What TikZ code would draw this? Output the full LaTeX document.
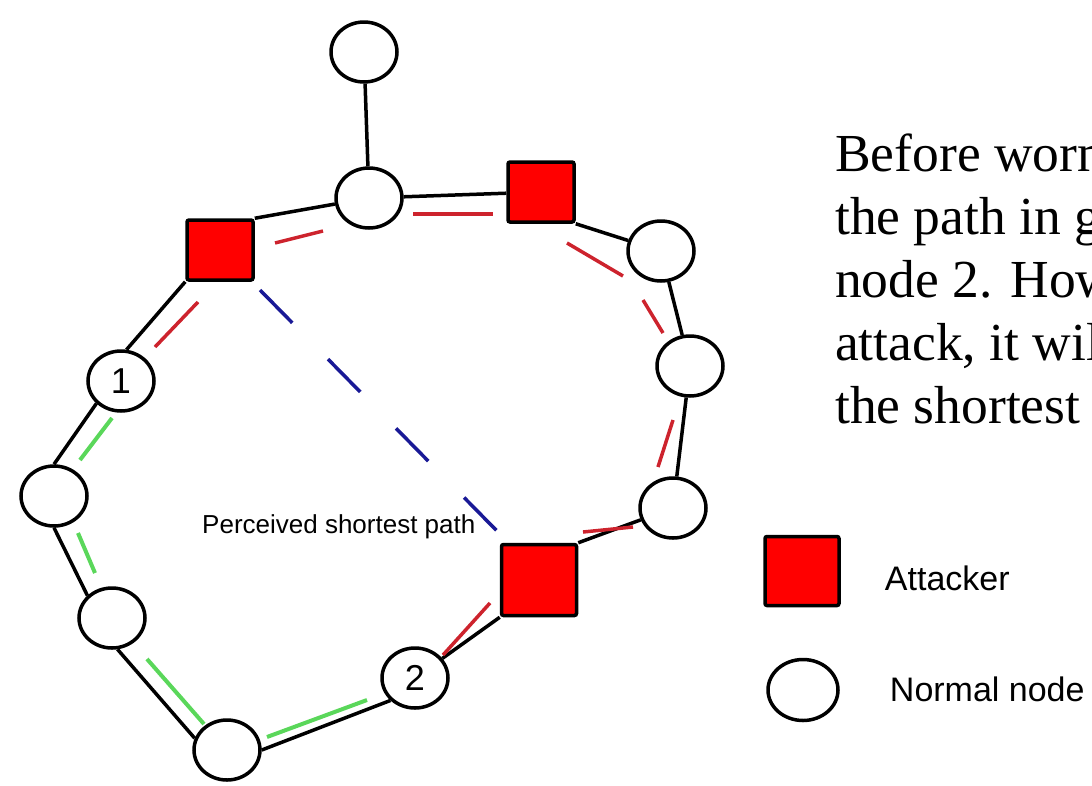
\documentclass[tikz,border=0pt]{standalone}
\usepackage{fontspec}
\setmainfont{Liberation Serif}
\setsansfont{Liberation Sans}
\usetikzlibrary{positioning,shapes.geometric,calc}
\definecolor{wormred}{RGB}{205,35,45}
\definecolor{wormgreen}{RGB}{90,215,90}
\definecolor{wormblue}{RGB}{25,25,150}
\tikzset{
  normal/.style     = {ellipse, draw, line width=3.5pt, fill=white, inner sep=0pt, minimum width=66pt, minimum height=60pt, font=\sffamily\fontsize{36}{36}\selectfont},
  attacker/.style   = {rectangle, draw, line width=3.5pt, fill=red, rounded corners=2pt, inner sep=0pt, minimum width=66pt, minimum height=60pt},
  link/.style       = {line width=3.5pt},
  oldpath/.style    = {wormgreen, line width=4pt},
  newpath/.style    = {wormred, line width=3.5pt},
  fakepath/.style   = {wormblue, line width=3.5pt, dash pattern=on 46pt off 51pt},
  labelstyle/.style = {font=\sffamily\fontsize{26}{26}\selectfont, inner sep=0pt},
  legendstyle/.style = {font=\sffamily\fontsize{34}{34}\selectfont, inner sep=0pt},
  notestyle/.style  = {font=\fontsize{53.5}{63}\selectfont, align=left, inner sep=0pt}
}

\begin{document}
\begin{tikzpicture}[x=1pt, y=-1pt]
    \useasboundingbox (0,0) rectangle (1092,785);
    \clip (0,0) rectangle (1092,785);
    % Nodes of the ring
    \node[normal] (top) at (364,52) {};
    \node[normal] (hub) at (369,198) {};
    \node[attacker] (atkA) at (220,250) {};
    \node[attacker] (atkB) at (541,192) {};
    \node[normal] (r1) at (661,251) {};
    \node[normal] (r2) at (690,366) {};
    \node[normal] (r3) at (673,508) {};
    \node[attacker, minimum width=75pt, minimum height=71pt] (atkC) at (539,580) {};
    \node[normal] (n2) at (415,678) {2};
    \node[normal] (bot) at (227,750) {};
    \node[normal] (l2) at (112,618) {};
    \node[normal] (l1) at (54,496) {};
    \node[normal] (n1) at (121,381) {1};
    % Links
    \draw[link] (top) -- (hub);
    \draw[link] (atkA.north east) -- (hub);
    \draw[link] (hub) -- (atkB);
    \draw[link] (atkB.south east) -- (r1);
    \draw[link] (r1) -- (r2);
    \draw[link] (r2) -- (r3);
    \draw[link] (r3) -- (atkC.north east);
    \draw[link] (atkC.south west) -- (n2);
    \draw[link] (n2.south west) -- (bot.east);
    \draw[link] (bot.160) -- (l2.-80);
    \draw[link] (l2.north west) -- (l1.south);
    \draw[link] (l1.north) -- (n1.south west);
    \draw[link] (n1.80) -- (atkA.south west);
    % Shortest path before the attack
    \draw[oldpath] ($(n1)+(-9,37)$) -- ($(l1)+(26,-36)$);
    \draw[oldpath] ($(l1)+(24,37)$) -- ($(l2)+(-17,-45)$);
    \draw[oldpath] ($(l2)+(35,41)$) -- ($(bot)+(-23,-26)$);
    \draw[oldpath] ($(bot)+(40,-13)$) -- ($(n2)+(-48,22)$);
    % Path taken after the attack
    \draw[newpath] ($(n1)+(34,-34)$) -- ($(atkA)+(-22,52)$);
    \draw[newpath] ($(atkA)+(55,-7)$) -- ($(hub)+(-46,33)$);
    \draw[newpath] ($(hub)+(44,16)$) -- ($(atkB)+(-48,22)$);
    \draw[newpath] ($(atkB)+(26,51)$) -- ($(r1)+(-38,25)$);
    \draw[newpath] ($(r1)+(-18,49)$) -- ($(r2)+(-27,-33)$);
    \draw[newpath] ($(r2)+(-17,54)$) -- ($(r3)+(-15,-41)$);
    \draw[newpath] ($(r3)+(-40,19)$) -- ($(atkC)+(44,-48)$);
    \draw[newpath] ($(atkC)+(-49,23)$) -- ($(n2)+(28,-23)$);
    % Wormhole tunnel
    \draw[fakepath] ($(atkA)+(40,40)$) -- ($(atkC)+(-41,-48)$);
    \node[labelstyle, anchor=base west] (tunnel) at (202,533) {Perceived shortest path};
    % Legend
    \node[attacker, minimum width=74pt, minimum height=69pt] (legA) at (802,571) {};
    \node[normal, minimum width=70pt, minimum height=61pt] (legN) at (803,690) {};
    \node[legendstyle, right=44pt of legA, yshift=-7pt] (legAtxt) {Attacker};
    \node[legendstyle, right=50pt of legN, yshift=1pt] (legNtxt) {Normal node};
    % Explanation
    \node[notestyle, anchor=base west] (note) at (835,423)
      {Before worm\\the path in g\\node 2. How\\attack, it wil\\the shortest p};
\end{tikzpicture}
\end{document}
